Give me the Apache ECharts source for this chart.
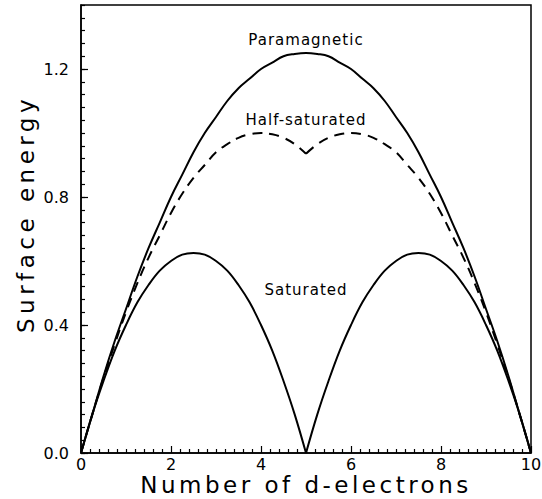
<!DOCTYPE html>
<html>
<head>
<meta charset="utf-8">
<script src="https://cdn.jsdelivr.net/npm/echarts@6/dist/echarts.min.js"></script>
<style>
  html, body { margin: 0; padding: 0; background: #fff; }
  #chart { width: 542px; height: 499px; }
</style>
</head>
<body>
<div id="chart"></div>
<script>
//  number of d-electrons
const electrons = [0, 0.25, 0.5, 0.75, 1, 1.25, 1.5, 1.75, 2, 2.25, 2.5, 2.75, 3, 3.25, 3.5, 3.75, 4, 4.25, 4.5, 4.75,
    5, 5.25, 5.5, 5.75, 6, 6.25, 6.5, 6.75, 7, 7.25, 7.5, 7.75, 8, 8.25, 8.5, 8.75, 9, 9.25, 9.5, 9.75, 10];
//  surface energy
const paramagnetic = [0, 0.12, 0.24, 0.35, 0.45, 0.55, 0.64, 0.72, 0.80, 0.87, 0.94, 1.0, 1.05, 1.10, 1.14, 1.17, 1.20, 1.22, 1.24, 1.247,
    1.25, 1.247, 1.24, 1.22, 1.20, 1.17, 1.14, 1.10, 1.05, 1.0, 0.94, 0.87, 0.80, 0.72, 0.64, 0.55, 0.45, 0.35, 0.24, 0.12, 0];
const halfSaturated = [0, 0.12, 0.235, 0.34, 0.44, 0.53, 0.61, 0.68, 0.75, 0.81, 0.86, 0.90, 0.94, 0.965, 0.985, 0.996, 1.0, 0.996, 0.985, 0.965,
    0.935, 0.965, 0.985, 0.996, 1.0, 0.996, 0.985, 0.965, 0.94, 0.90, 0.86, 0.81, 0.75, 0.68, 0.61, 0.53, 0.44, 0.34, 0.235, 0.12, 0];
const saturated = [0, 0.12, 0.225, 0.32, 0.40, 0.47, 0.525, 0.57, 0.60, 0.62, 0.625, 0.62, 0.60, 0.57, 0.525, 0.47, 0.40, 0.32, 0.225, 0.12,
    0, 0.12, 0.225, 0.32, 0.40, 0.47, 0.525, 0.57, 0.60, 0.62, 0.625, 0.62, 0.60, 0.57, 0.525, 0.47, 0.40, 0.32, 0.225, 0.12, 0];
//  curve labels: [name, x, y]
const curveLabels = [
    ['Paramagnetic', 5, 1.29],
    ['Half-saturated', 5, 1.04],
    ['Saturated', 5, 0.51],
];
//  index of the cusp at 5 electrons
const cusp = 20;

const font = 'DejaVu Sans';
const black = '#000';

function pairs(ys, from, to) {
    return electrons.slice(from, to).map((x, i) => [x, ys.slice(from, to)[i]]);
}

function labelPoints() {
    return curveLabels.map(l => ({
        coord: [l[1], l[2]],
        symbolSize: 0,
        label: {show: true, position: 'inside', formatter: l[0], color: black, fontSize: 15, fontFamily: font},
    }));
}

//  one smooth line; curves with a cusp are drawn as two halves
function curve(name, ys, dashed, from, to) {
    return {
        name: name,
        type: 'line',
        symbol: 'none',
        smooth: 0.4,
        data: pairs(ys, from, to),
        lineStyle: {color: black, width: 2, type: dashed ? [10, 7] : 'solid'},
    };
}

const myChart = echarts.init(document.getElementById('chart'), null, {renderer: 'svg'});
myChart.setOption({
    animation: false,
    grid: {
        left: 81, right: 11, top: 5, bottom: 46,
        outerBoundsMode: 'none',
        show: true,
        borderColor: black,
        borderWidth: 1.5,
    },
    xAxis: {
        type: 'value',
        min: 0, max: 10, interval: 2,
        name: 'Number of d-electrons',
        nameLocation: 'middle',
        nameGap: 23,
        nameMoveOverlap: false,
        nameTextStyle: {color: black, fontSize: 23, fontFamily: font, lineHeight: 18},
        axisLine: {lineStyle: {color: black, width: 1.5}},
        axisTick: {inside: true, length: 7, lineStyle: {color: black, width: 1.2}},
        minorTick: {show: true, splitNumber: 10, length: 4, lineStyle: {color: black, width: 1.2}},
        splitLine: {show: false},
        axisLabel: {color: black, fontSize: 16, fontFamily: font, margin: 3},
    },
    yAxis: [
        {
            type: 'value',
            min: 0, max: 1.4, interval: 0.4,
            name: 'Surface energy',
            nameLocation: 'middle',
            nameGap: 44,
            nameMoveOverlap: false,
            nameTextStyle: {color: black, fontSize: 23, fontFamily: font, padding: [0, 0, 0, 30]},
            axisLine: {lineStyle: {color: black, width: 1.5}},
            axisTick: {inside: true, length: 7, lineStyle: {color: black, width: 1.2}},
            splitLine: {show: false},
            axisLabel: {
                color: black, fontSize: 16, fontFamily: font, margin: 12,
                showMaxLabel: false,
                formatter: v => v.toFixed(1),
            },
        },
        {
            //  minor ticks every 0.04
            type: 'value',
            position: 'left',
            min: 0, max: 1.4, interval: 0.04,
            axisLine: {show: false},
            axisTick: {inside: true, length: 4, lineStyle: {color: black, width: 1.2}},
            axisLabel: {show: false},
            splitLine: {show: false},
        }
    ],
    series: [
        Object.assign(curve('Paramagnetic', paramagnetic, false, 0, electrons.length),
            {markPoint: {symbol: 'circle', data: labelPoints()}}),
        curve('Half-saturated', halfSaturated, true, 0, cusp + 1),
        curve('Half-saturated', halfSaturated, true, cusp, electrons.length),
        curve('Saturated', saturated, false, 0, cusp + 1),
        curve('Saturated', saturated, false, cusp, electrons.length),
    ],
});

//  the original lettering is widely spaced
const spacing = {'Number of d-electrons': 3.5, 'Surface energy': 4.5, 'Paramagnetic': 1, 'Half-saturated': 1, 'Saturated': 1};
document.querySelectorAll('#chart text').forEach(t => {
    const s = spacing[t.textContent];
    if (s) t.setAttribute('letter-spacing', s + 'px');
});
</script>
</body>
</html>
